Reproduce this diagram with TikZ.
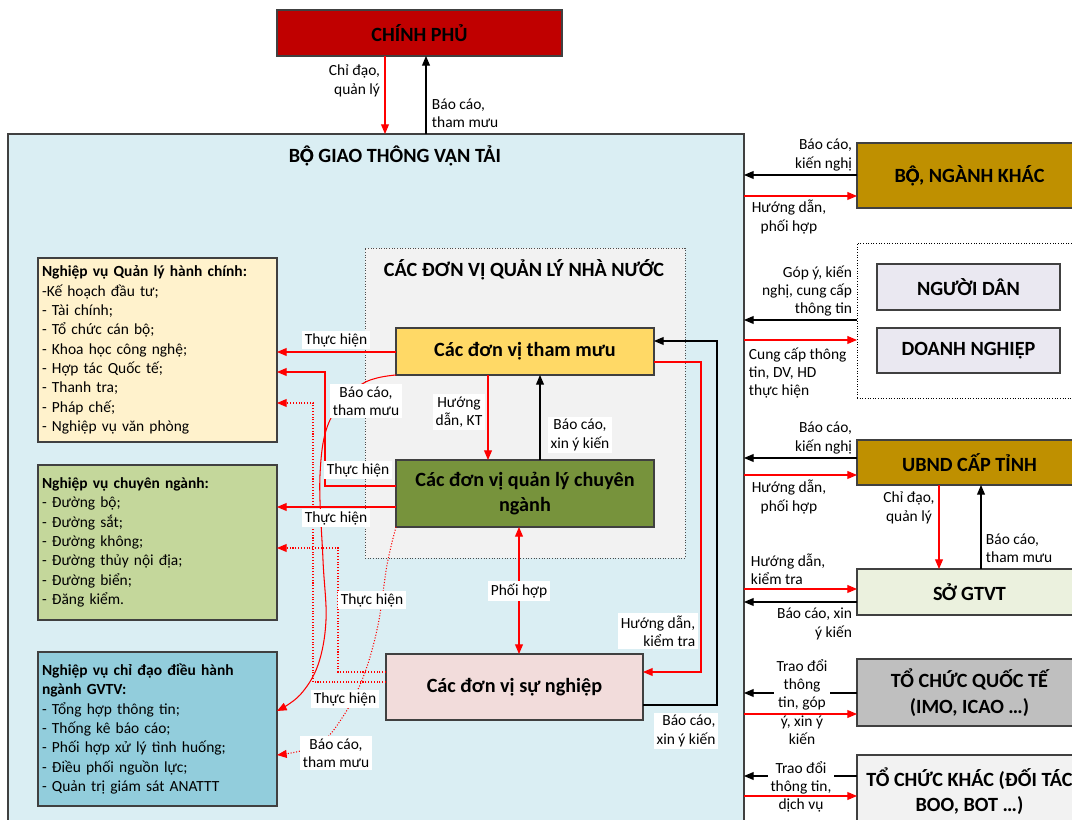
\documentclass[tikz,border=0pt]{standalone}
\usepackage{fontspec}
\setmainfont{Carlito}
\usetikzlibrary{arrows.meta}

\definecolor{cpred}{HTML}{C00000}
\definecolor{bgblue}{HTML}{DAEEF3}
\definecolor{qlgray}{HTML}{F2F2F2}
\definecolor{tmyellow}{HTML}{FFD966}
\definecolor{cngreen}{HTML}{77933C}
\definecolor{snpink}{HTML}{F2DCDB}
\definecolor{hcyellow}{HTML}{FFF2CC}
\definecolor{nvgreen}{HTML}{C4D79B}
\definecolor{dhblue}{HTML}{92CDDC}
\definecolor{khgold}{HTML}{BF9000}
\definecolor{dnlilac}{HTML}{EAE8F1}
\definecolor{sogreen}{HTML}{EBF1DE}
\definecolor{qtgray}{HTML}{BFBFBF}

% bold O with circumflex and dot below
\newcommand{\Ohd}{\rlap{Ô}Ọ}

\tikzset{
  box/.style={draw=black!75, line width=0.6pt, inner sep=0pt, outer sep=0pt,
    font=\bfseries\fontsize{11.5}{14.5}\selectfont, align=center},
  nvtext/.style={font=\fontsize{8.8}{11}\selectfont, align=left, text width=4.62cm},
  title/.style={font=\bfseries\fontsize{11.5}{14.5}\selectfont, inner sep=1pt},
  lbl/.style={font=\fontsize{8.8}{10.4}\selectfont, inner sep=1.5pt},
  wlbl/.style={lbl, fill=white},
  redline/.style={red, line width=0.6pt},
  blkline/.style={black, line width=0.6pt},
  arr/.style={-{Triangle[length=5.5pt,width=4.5pt]}},
  dblarr/.style={{Triangle[length=5.5pt,width=4.5pt]}-{Triangle[length=5.5pt,width=4.5pt]}},
}

% name, x1, y1, x2, y2 (pixels), style, text
\NewDocumentCommand{\unitbox}{mmmmmmm}{%
\node[box,#6,minimum width={(#4-#2)*0.02cm},minimum height={(#5-#3)*0.02cm}]
  (#1) at ({(#2+#4)/2},{(#3+#5)/2}) {#7};%
}

\begin{document}
\begin{tikzpicture}[x=0.02cm,y=-0.02cm]
\useasboundingbox (0,0) rectangle (1072,820);
\clip (0,0) rectangle (1072,820);

% Chinh phu, Bo.
\unitbox{chinhphu}{277}{10}{562}{56}{fill=cpred}{CHÍNH PHỦ}
\unitbox{bogtvt}{8}{134}{744}{840}{fill=bgblue}{}
\node[title] (bogtitle) at (395,156) {B\Ohd{} GIAO THÔNG VẬN TẢI};
\draw[redline, arr] (chinhphu.south -| 385,0) -- (bogtvt.north -| 385,0);
\node[lbl, align=right, anchor=east] (lcd) at (383,81) {Chỉ đạo,\\quản lý};
\draw[blkline, arr] (bogtvt.north -| 426,0) -- (chinhphu.south -| 426,0);
\node[lbl, align=left, anchor=west] (lbc) at (429,113) {Báo cáo,\\tham mưu};

% Nghiep vu.
\unitbox{nvhc}{38}{258}{277}{442}{fill=hcyellow, nvtext}{\textbf{Nghiệp vụ Quản lý hành chính:}\\-Kế hoạch đầu tư;\\- Tài chính;\\- Tổ chức cán bộ;\\- Khoa học công nghệ;\\- Hợp tác Quốc tế;\\- Thanh tra;\\- Pháp chế;\\- Nghiệp vụ văn phòng}
\unitbox{nvcn}{38}{465}{277}{620}{fill=nvgreen, nvtext}{\textbf{Nghiệp vụ chuyên ngành:}\\- Đường bộ;\\- Đường sắt;\\- Đường không;\\- Đường thủy nội địa;\\- Đường biển;\\- Đăng kiểm.}
\unitbox{nvdh}{38}{652}{277}{806}{fill=dhblue, nvtext}{\textbf{Nghiệp vụ chỉ đạo điều hành}\\\textbf{ngành GVTV:}\\- Tổng hợp thông tin;\\- Thống kê báo cáo;\\- Phối hợp xử lý tình huống;\\- Điều phối nguồn lực;\\- Quản trị giám sát ANATTT}

% Don vi.
\unitbox{qlnn}{365}{248}{685}{558}{fill=qlgray, draw=black!70, line width=0.5pt, densely dotted}{}
\node[title] (qlnntitle) at (524,270) {CÁC ĐƠN VỊ QUẢN LÝ NHÀ NƯỚC};
\unitbox{thammuu}{396}{328}{654}{375}{fill=tmyellow}{Các đơn vị tham mưu}
\unitbox{qlcn}{396}{460}{654}{527}{fill=cngreen}{Các đơn vị quản lý chuyên\\ngành}
\unitbox{sunghiep}{386}{654}{643}{720}{fill=snpink}{Các đơn vị sự nghiệp}

\draw[redline, arr] (thammuu.south -| 488,0) -- (qlcn.north -| 488,0);
\node[wlbl, align=center] (lhd) at (459,412) {Hướng\\dẫn, KT};
\draw[blkline, arr] (qlcn.north -| 540,0) -- (thammuu.south -| 540,0);
\node[wlbl, align=center] (lxyk) at (580,435) {Báo cáo,\\xin ý kiến};
\draw[redline, dblarr] (qlcn.south -| 519,0) -- (sunghiep.north -| 519,0);
\node[wlbl] (lph) at (519,591) {Phối hợp};
\draw[redline, arr] (thammuu.east |- 0,362) -| (701,672) -- (sunghiep.east |- 0,672);
\node[wlbl, align=right] (lhdkt) at (658,631) {Hướng dẫn,\\kiểm tra};
\draw[blkline, arr] (sunghiep.east |- 0,705) -| (717,341) -- (thammuu.east |- 0,341);
\node[wlbl, align=right] (lbcxyk) at (686,731) {Báo cáo,\\xin ý kiến};

% Thuc hien.
\draw[redline, arr] (thammuu.west |- 0,352) -- (nvhc.east |- 0,352);
\node[wlbl] (lth1) at (336,340) {Thực hiện};
\draw[redline, arr] (qlcn.west |- 0,486) -| (325,372) -- (nvhc.east |- 0,372);
\draw[redline, arr] (qlcn.west |- 0,507) -- (nvcn.east |- 0,507);
\draw[redline, densely dotted, arr] (sunghiep.west |- 0,672) -| (338,548) -- (nvcn.east |- 0,548);
\draw[redline, densely dotted, arr] (sunghiep.west |- 0,682) -| (313,403) -- (nvhc.east |- 0,403);
\draw[redline, arr] plot[smooth, tension=0.6] coordinates {(thammuu.south west) (362,384) (330,420) (320,475) (323,560) (326,620) (318,665) (300,695) (nvdh.east |- 0,711)};
\draw[redline, densely dotted, arr] plot[smooth, tension=0.6] coordinates {(qlcn.south west) (387,565) (378,625) (364,675) (344,715) (318,745) (nvdh.east |- 0,755)};
\node[wlbl] (lth2) at (358,470) {Thực hiện};
\node[wlbl] (lth3) at (336,518) {Thực hiện};
\node[wlbl] (lth4) at (372,600) {Thực hiện};
\node[wlbl] (lth5) at (345,699) {Thực hiện};
\node[wlbl, align=center] (lbctm1) at (366,401) {Báo cáo,\\tham mưu};
\node[wlbl, align=center] (lbctm2) at (336,753) {Báo cáo,\\tham mưu};

% Ben ngoai.
\unitbox{bonganh}{857}{143}{1082}{208}{fill=khgold}{B\Ohd, NGÀNH KHÁC}
\draw[blkline, arr] (bonganh.west |- 0,175) -- (bogtvt.east |- 0,175);
\node[lbl, align=right, anchor=east] (lbn1) at (855,155) {Báo cáo,\\kiến nghị};
\draw[redline, arr] (bogtvt.east |- 0,196) -- (bonganh.west |- 0,196);
\node[lbl, align=center] (lbn2) at (789,217) {Hướng dẫn,\\phối hợp};

\unitbox{congdong}{857}{243}{1082}{398}{fill=white, draw=black, line width=0.5pt, densely dotted}{}
\unitbox{nguoidan}{877}{264}{1060}{310}{fill=dnlilac}{NGƯỜI DÂN}
\unitbox{doanhnghiep}{877}{328}{1060}{373}{fill=dnlilac}{DOANH NGHIỆP}
\draw[blkline, arr] (congdong.west |- 0,320) -- (bogtvt.east |- 0,320);
\node[lbl, align=right, anchor=east] (lcd1) at (855,291) {Góp ý, kiến\\nghị, cung cấp\\thông tin};
\draw[redline, arr] (bogtvt.east |- 0,340) -- (congdong.west |- 0,340);
\node[lbl, align=left, anchor=west] (lcd2) at (746,373) {Cung cấp thông\\tin, DV, HD\\thực hiện};

\unitbox{ubnd}{857}{440}{1082}{485}{fill=khgold}{UBND CẤP TỈNH}
\draw[blkline, arr] (ubnd.west |- 0,458) -- (bogtvt.east |- 0,458);
\node[lbl, align=right, anchor=east] (lub1) at (855,438) {Báo cáo,\\kiến nghị};
\draw[redline, arr] (bogtvt.east |- 0,475) -- (ubnd.west |- 0,475);
\node[lbl, align=center] (lub2) at (789,497) {Hướng dẫn,\\phối hợp};

\unitbox{sogtvt}{857}{569}{1082}{615}{fill=sogreen}{SỞ GTVT}
\draw[redline, arr] (ubnd.south -| 939,0) -- (sogtvt.north -| 939,0);
\node[lbl, align=center] (lso1) at (909,508) {Chỉ đạo,\\quản lý};
\draw[blkline, arr] (sogtvt.north -| 981,0) -- (ubnd.south -| 981,0);
\node[lbl, align=left, anchor=west] (lso2) at (983,548) {Báo cáo,\\tham mưu};
\draw[redline, arr] (bogtvt.east |- 0,589) -- (sogtvt.west |- 0,589);
\node[lbl, align=left, anchor=west] (lso3) at (748,569) {Hướng dẫn,\\kiểm tra};
\draw[blkline, arr] (sogtvt.west |- 0,602) -- (bogtvt.east |- 0,602);
\node[lbl, align=right, anchor=east] (lso4) at (855,624) {Báo cáo, xin\\ý kiến};

\unitbox{tcqt}{857}{659}{1082}{726}{fill=qtgray}{TỔ CHỨC QUỐC TẾ\\(IMO, ICAO …)}
\draw[blkline, arr] (tcqt.west |- 0,693) -- (bogtvt.east |- 0,693);
\node[wlbl, align=center] (lqt) at (802,702) {Trao đổi\\thông\\tin, góp\\ý, xin ý\\kiến};
\draw[redline, arr] (bogtvt.east |- 0,714) -- (tcqt.west |- 0,714);

\unitbox{tckhac}{857}{755}{1082}{827}{fill=qlgray}{TỔ CHỨC KHÁC (ĐỐI TÁC\\BOO, BOT …)}
\draw[blkline, arr] (tckhac.west |- 0,776) -- (bogtvt.east |- 0,776);
\node[wlbl, align=center] (lkh) at (801,787) {Trao đổi\\thông tin,\\dịch vụ};
\draw[redline, arr] (bogtvt.east |- 0,796) -- (tckhac.west |- 0,796);
\end{tikzpicture}
\end{document}
